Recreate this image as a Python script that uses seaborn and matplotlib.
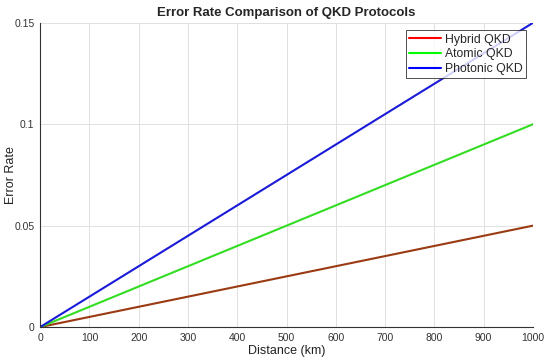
import matplotlib
matplotlib.use("Agg")
import matplotlib.pyplot as plt
import seaborn as sns
import pandas as pd
from matplotlib.lines import Line2D

distance = [0, 100, 200, 300, 400, 500, 600, 700, 800, 900, 1000]
hybrid = [0, 0.005, 0.010, 0.015, 0.020, 0.025, 0.030, 0.035, 0.040, 0.045, 0.050]
atomic = [0, 0.010, 0.020, 0.030, 0.040, 0.050, 0.060, 0.070, 0.080, 0.090, 0.100]
photonic = [0, 0.015, 0.030, 0.045, 0.060, 0.075, 0.090, 0.105, 0.120, 0.135, 0.150]
labels = ["Hybrid QKD", "Atomic QKD", "Photonic QKD"]
line_colors = ["#9a3a12", "#33dd22", "#1a1ad8"]
legend_colors = ["#ff0000", "#00ff00", "#0000ff"]

sns.set_style("white")
plt.rcParams['font.family'] = ['Liberation Sans', 'DejaVu Sans']

df = pd.DataFrame({"Distance": distance * 3,
                   "Rate": hybrid + atomic + photonic,
                   "Protocol": [l for l in labels for _ in distance]})

fig = plt.figure(figsize=(5.5, 3.63), dpi=100)
ax = fig.add_axes([0.073, 0.099, 0.896, 0.838])
sns.lineplot(data=df, x="Distance", y="Rate", hue="Protocol",
             palette=dict(zip(labels, line_colors)), linewidth=1.5, ax=ax, legend=False)

ax.set_xlim(0, 1000)
ax.set_ylim(0, 0.15)
ax.set_xticks(range(0, 1001, 100))
ax.set_yticks([0, 0.05, 0.1, 0.15])
ax.set_yticklabels(["0", "0.05", "0.1", "0.15"])
ax.grid(True, color="#e0e0e0", linewidth=0.7)
ax.tick_params(direction="in", length=3, labelsize=7.5, colors="#222222",
               labelcolor="#333333", pad=4)
for s in ["top", "right"]:
    ax.spines[s].set_visible(False)
for s in ["left", "bottom"]:
    ax.spines[s].set_color("#333333")
    ax.spines[s].set_linewidth(0.8)
ax.set_xlabel("Distance (km)", fontsize=9, labelpad=2, color="#222222")
ax.set_ylabel("Error Rate", fontsize=9, color="#222222")
ax.yaxis.set_label_coords(-0.046, 0.5)
ax.set_title("Error Rate Comparison of QKD Protocols", fontsize=9.5, fontweight="bold", pad=5)

handles = [Line2D([], [], color=c, linewidth=1.5) for c in legend_colors]
leg = ax.legend(handles, labels, loc="upper right", fontsize=8.8, frameon=True,
                fancybox=False, edgecolor="#222222", borderpad=0.25, labelspacing=0.22,
                handlelength=2.6, handletextpad=0.3, borderaxespad=0.0,
                bbox_to_anchor=(0.985, 0.975))
leg.get_frame().set_linewidth(0.7)

fig.savefig("out.png", dpi=100)
